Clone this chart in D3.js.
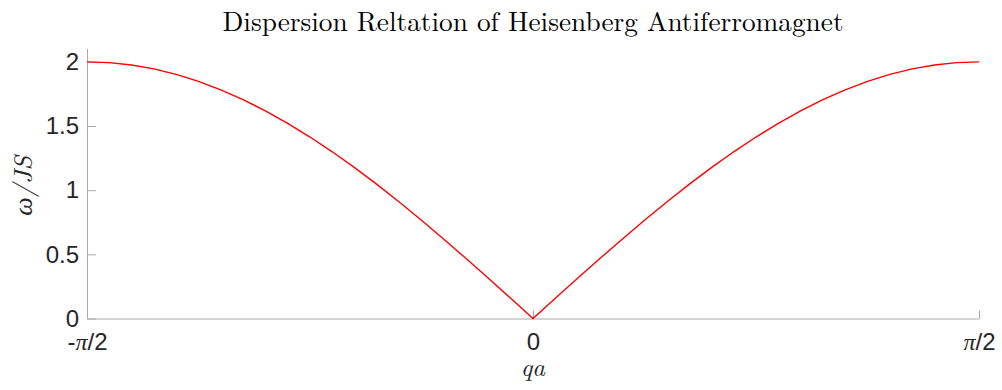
<!DOCTYPE html>
<html>
<head>
<meta charset="utf-8">
<script src="https://cdn.jsdelivr.net/npm/d3@7"></script>
<style>
  html, body { margin: 0; padding: 0; background: #fff; }
  svg { display: block; }
</style>
</head>
<body>
<svg id="chart" width="1002" height="390"></svg>
<script>
// Wave vector qa, in units of pi
const qa = [
  -0.500, -0.475, -0.450, -0.425, -0.400, -0.375, -0.350, -0.325, -0.300, -0.275,
  -0.250, -0.225, -0.200, -0.175, -0.150, -0.125, -0.100, -0.075, -0.050, -0.025,
   0.000,
   0.025,  0.050,  0.075,  0.100,  0.125,  0.150,  0.175,  0.200,  0.225,  0.250,
   0.275,  0.300,  0.325,  0.350,  0.375,  0.400,  0.425,  0.450,  0.475,  0.500
];
// Magnon energy omega / JS
const omega = [
  2.000, 1.994, 1.975, 1.945, 1.902, 1.848, 1.782, 1.705, 1.618, 1.521,
  1.414, 1.299, 1.176, 1.045, 0.908, 0.765, 0.618, 0.467, 0.313, 0.157,
  0.000,
  0.157, 0.313, 0.467, 0.618, 0.765, 0.908, 1.045, 1.176, 1.299, 1.414,
  1.521, 1.618, 1.705, 1.782, 1.848, 1.902, 1.945, 1.975, 1.994, 2.000
];
const xTickValues = [-0.5, 0, 0.5];
const xTickLabels = ["-π/2", "0", "π/2"];
const yTickValues = [0, 0.5, 1, 1.5, 2];
const yTickLabels = ["0", "0.5", "1", "1.5", "2"];

const svg = d3.select("#chart");
const plotLeft = 87, plotRight = 979, plotTop = 49, plotBottom = 318.5;

const x = d3.scaleLinear().domain([-0.5, 0.5]).range([plotLeft, plotRight]);
const y = d3.scaleLinear().domain([0, 2.1]).range([plotBottom, plotTop]);

const axisColor = "#a9a9a9";
const textColor = "#262626";
const tickFont = "'Liberation Sans', Arial, Helvetica, sans-serif";
const serif = "'Latin Modern Roman', 'CMU Serif', 'Liberation Serif', 'Times New Roman', serif";

// x axis with inward ticks
const xAxis = d3.axisBottom(x)
  .tickValues(xTickValues)
  .tickSizeInner(-8)
  .tickSizeOuter(0)
  .tickPadding(14)
  .tickFormat((d, i) => xTickLabels[i]);

const gx = svg.append("g")
  .attr("transform", `translate(0,${plotBottom})`)
  .call(xAxis);
gx.select(".domain").attr("stroke", axisColor).attr("stroke-width", 1);
gx.selectAll(".tick line").attr("stroke", axisColor).attr("stroke-width", 1);
gx.selectAll(".tick text")
  .attr("fill", textColor)
  .style("font-family", tickFont)
  .style("font-size", "24px")
  .attr("y", 14)
  .attr("dy", "0.71em")
  .text(null)
  .each(function(d, i) {
    const t = d3.select(this);
    const parts = xTickLabels[i].split("π");
    if (parts.length === 1) { t.text(parts[0]); return; }
    t.append("tspan").text(parts[0]);
    t.append("tspan").style("font-style", "italic").style("font-family", serif).text("π");
    t.append("tspan").text(parts[1]);
  });

// y axis with inward ticks
const yAxis = d3.axisLeft(y)
  .tickValues(yTickValues)
  .tickSizeInner(-9)
  .tickSizeOuter(0)
  .tickPadding(8)
  .tickFormat((d, i) => yTickLabels[i]);

const gy = svg.append("g")
  .attr("transform", `translate(${plotLeft},0)`)
  .call(yAxis);
gy.select(".domain").attr("stroke", axisColor).attr("stroke-width", 1)
  .attr("d", `M0.5,${plotTop}V${plotBottom}`);
gy.selectAll(".tick line").attr("stroke", axisColor).attr("stroke-width", 1);
gy.selectAll(".tick text")
  .attr("fill", textColor)
  .style("font-family", tickFont)
  .style("font-size", "24px");

// dispersion curve
const line = d3.line()
  .x((d, i) => x(qa[i]))
  .y(d => y(d));

svg.append("path")
  .datum(omega)
  .attr("fill", "none")
  .attr("stroke", "#ff0000")
  .attr("stroke-width", 1.4)
  .attr("d", line);

// title
svg.append("text")
  .attr("x", (plotLeft + plotRight) / 2)
  .attr("y", 31)
  .attr("text-anchor", "middle")
  .attr("fill", "#000")
  .style("font-family", serif)
  .style("font-size", "27px")
  .attr("textLength", 621)
  .attr("lengthAdjust", "spacingAndGlyphs")
  .text("Dispersion Reltation of Heisenberg Antiferromagnet");

// axis labels
svg.append("text")
  .attr("x", (plotLeft + plotRight) / 2)
  .attr("y", 376)
  .attr("text-anchor", "middle")
  .attr("fill", textColor)
  .style("font-family", serif)
  .style("font-style", "italic")
  .style("font-size", "25px")
  .text("qa");

svg.append("text")
  .attr("transform", `translate(32,${(plotTop + plotBottom) / 2 + 2}) rotate(-90)`)
  .attr("text-anchor", "middle")
  .attr("fill", textColor)
  .style("font-family", serif)
  .style("font-style", "italic")
  .style("font-size", "26px")
  .text("ω/JS");
</script>
</body>
</html>
